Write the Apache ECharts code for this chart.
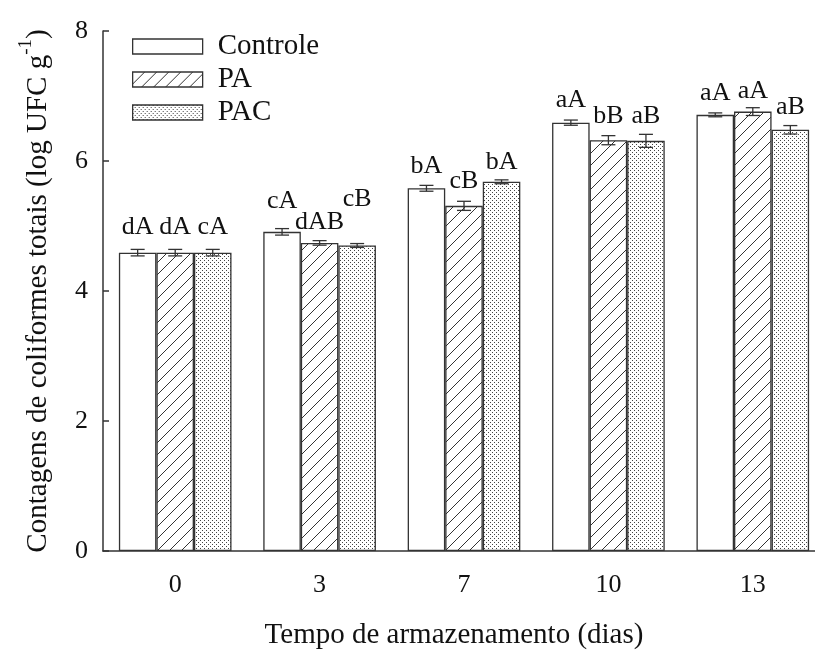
<!DOCTYPE html>
<html>
<head>
<meta charset="utf-8">
<script src="https://cdn.jsdelivr.net/npm/echarts@6/dist/echarts.min.js"></script>
<style>
  html, body { margin: 0; padding: 0; background: #fff; }
  #chart { width: 815px; height: 650px; }
</style>
</head>
<body>
<div id="chart"></div>
<script>
// dias de armazenamento
var days = ['0', '3', '7', '10', '13']
var seriesNames = ['Controle', 'PA', 'PAC']
// log UFC g-1
var controle = [4.59, 4.91, 5.58, 6.59, 6.71]
var pa = [4.59, 4.74, 5.31, 6.32, 6.76]
var pac = [4.59, 4.70, 5.68, 6.31, 6.48]
var controleErr = [0.05, 0.05, 0.045, 0.04, 0.03]
var paErr = [0.05, 0.035, 0.07, 0.07, 0.06]
var pacErr = [0.05, 0.03, 0.03, 0.1, 0.065]
var controleLetters = ['dA', 'cA', 'bA', 'aA', 'aA']
var paLetters = ['dA', 'dAB', 'cB', 'bB', 'aA']
var pacLetters = ['cA', 'cB', 'bA', 'aB', 'aB']
var yTicks = [0, 2, 4, 6, 8]

// distance of the letters above each bar (px)
var labelDist = [
  [13, 19, 10, 10, 10],
  [13, 9, 13, 12, 8],
  [13, 34, 8, 13, 11]
]

var font = 'Liberation Serif'
var lineCol = '#333333'
var textCol = '#111111'
var gapPct = 0.22

function hatchPattern () {
  var c = document.createElement('canvas')
  c.width = 12
  c.height = 12
  var ctx = c.getContext('2d')
  ctx.fillStyle = '#ffffff'
  ctx.fillRect(0, 0, 12, 12)
  ctx.strokeStyle = '#333333'
  ctx.lineWidth = 1
  ctx.beginPath()
  ctx.moveTo(-1, 13)
  ctx.lineTo(13, -1)
  ctx.stroke()
  return c
}

function dotPattern () {
  var c = document.createElement('canvas')
  c.width = 4
  c.height = 4
  var ctx = c.getContext('2d')
  ctx.fillStyle = '#ffffff'
  ctx.fillRect(0, 0, 4, 4)
  ctx.fillStyle = '#444444'
  ctx.fillRect(0, 0, 1, 1)
  ctx.fillRect(2, 2, 1, 1)
  return c
}

var fills = [
  '#ffffff',
  { image: hatchPattern(), repeat: 'repeat' },
  { image: dotPattern(), repeat: 'repeat' }
]
var values = [controle, pa, pac]
var errs = [controleErr, paErr, pacErr]
var letters = [controleLetters, paLetters, pacLetters]

var series = []
for (let s = 0; s < 3; s++) {
  let data = []
  for (let i = 0; i < days.length; i++) {
    data.push({
      value: values[s][i],
      label: { distance: labelDist[s][i] }
    })
  }
  series.push({
    name: seriesNames[s],
    type: 'bar',
    barGap: '0%',
    barCategoryGap: (gapPct * 100) + '%',
    data: data,
    itemStyle: {
      color: fills[s],
      borderColor: lineCol,
      borderWidth: 1.3
    },
    label: {
      show: true,
      position: 'top',
      fontFamily: font,
      fontSize: 26,
      lineHeight: 24,
      color: textCol,
      formatter: function (p) {
        return letters[s][p.dataIndex]
      }
    },
    emphasis: { disabled: true },
    silent: true,
    z: 2
  })
}

// error bars
for (let s = 0; s < 3; s++) {
  let errData = []
  for (let i = 0; i < days.length; i++) {
    errData.push([i, values[s][i] - errs[s][i], values[s][i] + errs[s][i]])
  }
  series.push({
    type: 'custom',
    silent: true,
    z: 5,
    data: errData,
    renderItem: function (params, api) {
      var band = api.size([1, 0])[0]
      var barW = band * (1 - gapPct) / 3
      var xOff = (s - 1) * barW
      var lo = api.coord([api.value(0), api.value(1)])
      var hi = api.coord([api.value(0), api.value(2)])
      var x = lo[0] + xOff
      var cap = 7
      var style = { stroke: lineCol, lineWidth: 1.3, fill: null }
      return {
        type: 'group',
        children: [
          { type: 'line', shape: { x1: x, y1: lo[1], x2: x, y2: hi[1] }, style: style },
          { type: 'line', shape: { x1: x - cap, y1: lo[1], x2: x + cap, y2: lo[1] }, style: style },
          { type: 'line', shape: { x1: x - cap, y1: hi[1], x2: x + cap, y2: hi[1] }, style: style }
        ]
      }
    }
  })
}

var chart = echarts.init(document.getElementById('chart'))
chart.setOption({
  animation: false,
  backgroundColor: '#ffffff',
  textStyle: { fontFamily: font },
  legend: {
    data: seriesNames,
    orient: 'vertical',
    left: 132,
    top: 32,
    padding: 0,
    itemWidth: 70,
    itemHeight: 15,
    itemGap: 4,
    selectedMode: false,
    icon: 'rect',
    itemStyle: { borderColor: lineCol, borderWidth: 1.3 },
    textStyle: { fontFamily: font, fontSize: 29, lineHeight: 26, color: textCol, padding: [0, 0, 0, 10] }
  },
  grid: {
    left: 103,
    top: 31,
    width: 722,
    height: 520,
    outerBoundsMode: 'none'
  },
  xAxis: {
    type: 'category',
    data: days,
    name: 'Tempo de armazenamento (dias)',
    nameLocation: 'middle',
    nameGap: 70,
    nameTextStyle: { fontFamily: font, fontSize: 29, color: textCol, padding: [0, 20, 0, 0] },
    axisLine: { lineStyle: { color: lineCol, width: 1.5 } },
    axisTick: { inside: true, length: 9, lineStyle: { color: lineCol, width: 1.5 } },
    axisLabel: { fontFamily: font, fontSize: 26, color: textCol, margin: 21 },
    splitLine: { show: false }
  },
  yAxis: {
    type: 'value',
    min: yTicks[0],
    max: yTicks[yTicks.length - 1],
    interval: yTicks[1] - yTicks[0],
    name: '{a|Contagens de coliformes totais (log UFC g}{s|-1}{a|)}',
    nameLocation: 'middle',
    nameGap: 50,
    nameRotate: 90,
    nameTextStyle: {
      rich: {
        a: { fontFamily: font, fontSize: 29, color: textCol, lineHeight: 36, verticalAlign: 'bottom' },
        s: { fontFamily: font, fontSize: 19, color: textCol, lineHeight: 36, verticalAlign: 'top' }
      }
    },
    axisLine: { show: true, lineStyle: { color: lineCol, width: 1.5 } },
    axisTick: { show: true, inside: true, length: 6, lineStyle: { color: lineCol, width: 1.5 } },
    axisLabel: { fontFamily: font, fontSize: 26, color: textCol, margin: 15 },
    splitLine: { show: false }
  },
  series: series
})
</script>
</body>
</html>
